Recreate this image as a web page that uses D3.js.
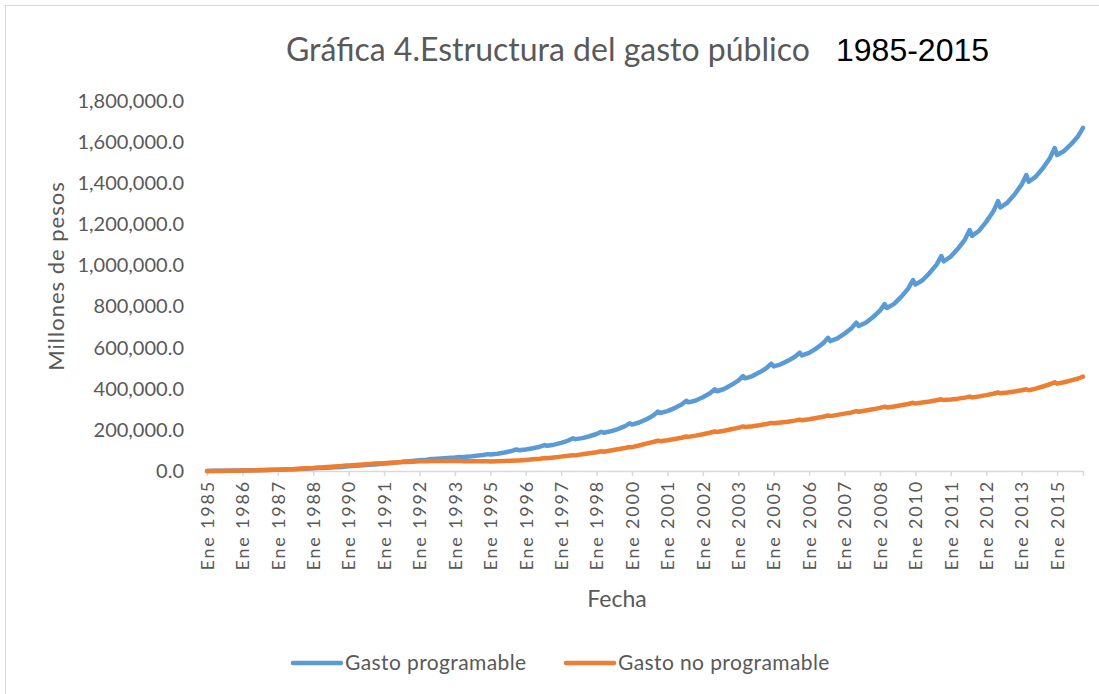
<!DOCTYPE html>
<html>
<head>
<meta charset="utf-8">
<script src="https://cdnjs.cloudflare.com/ajax/libs/d3/7.8.5/d3.min.js"></script>
<style>
  body { margin: 0; background: #fff; }
  text { font-family: Lato, "Open Sans", sans-serif; fill: #595959; }
</style>
</head>
<body>
<script>
// años 1985..2015, cinco lecturas por año (Ene, Abr, Jul, Oct, Dic)
const anios = d3.range(1985, 2016);
const meses = [0, 3, 6, 9, 11];

const gastoProgramable = [
  [500, 900, 1300, 1800, 2400],            // 1985
  [2400, 2800, 3300, 3900, 4500],
  [4600, 5500, 6500, 7800, 9000],
  [9000, 10000, 11500, 12800, 14000],
  [14500, 16000, 18000, 20000, 22000],
  [22500, 25000, 27500, 30000, 32000],     // 1990
  [33000, 36000, 39000, 42000, 45000],
  [46000, 49000, 52000, 55000, 58000],
  [58000, 60500, 63000, 65500, 68000],
  [67000, 70000, 74000, 78000, 82000],
  [80000, 84000, 90000, 97000, 105000],    // 1995
  [101000, 105000, 111000, 118000, 126000],
  [123000, 128000, 137000, 148000, 159000],
  [155000, 160000, 169000, 180000, 191000],
  [186000, 193000, 204000, 218000, 232000],
  [226000, 236000, 251000, 270000, 289000], // 2000
  [282000, 291000, 306000, 324000, 342000],
  [334000, 343000, 359000, 378000, 397000],
  [388000, 399000, 418000, 440000, 462000],
  [451000, 462000, 480000, 501000, 522000],
  [509000, 519000, 536000, 556000, 576000], // 2005
  [562000, 575000, 596000, 622000, 648000],
  [632000, 645000, 668000, 695000, 722000],
  [705000, 721000, 748000, 780000, 812000],
  [793000, 813000, 847000, 888000, 929000],
  [907000, 928000, 963000, 1004000, 1046000], // 2010
  [1020000, 1043000, 1081000, 1126000, 1172000],
  [1144000, 1169000, 1212000, 1262000, 1313000],
  [1282000, 1306000, 1345000, 1393000, 1440000],
  [1407000, 1432000, 1473000, 1522000, 1571000],
  [1537000, 1557000, 1590000, 1630000, 1669000]  // 2015
];

const gastoNoProgramable = [
  [0, 300, 600, 1000, 1500],               // 1985
  [1500, 2000, 2600, 3300, 4000],
  [4000, 5000, 6200, 7600, 9000],
  [9000, 11000, 13000, 15000, 17000],
  [17000, 19500, 22000, 24500, 27000],
  [27000, 29500, 31500, 34000, 36000],     // 1990
  [36000, 38000, 40000, 42000, 44000],
  [44000, 45500, 47000, 48000, 49000],
  [48500, 49000, 49000, 49000, 49000],
  [48000, 47500, 47000, 47000, 47500],
  [46500, 47500, 48500, 50000, 51500],     // 1995
  [51000, 54000, 57000, 60000, 63000],
  [62000, 66000, 70000, 74000, 77000],
  [76000, 81000, 86000, 91000, 96000],
  [94000, 100000, 106000, 112000, 117000],
  [116000, 124000, 133000, 141000, 148000], // 2000
  [145000, 150000, 156000, 162000, 168000],
  [166000, 172000, 179000, 186000, 192000],
  [190000, 196000, 203000, 210000, 217000],
  [214000, 218000, 223000, 229000, 234000],
  [232000, 236000, 240000, 245000, 250000], // 2005
  [247000, 252000, 258000, 264000, 270000],
  [267000, 273000, 279000, 285000, 291000],
  [288000, 294000, 300000, 307000, 313000],
  [309000, 314000, 320000, 326000, 332000],
  [328000, 333000, 338000, 344000, 349000], // 2010
  [345000, 348000, 352000, 357000, 362000],
  [358000, 363000, 369000, 376000, 382000],
  [378000, 382000, 387000, 393000, 398000],
  [393000, 401000, 411000, 422000, 432000],
  [425000, 432000, 441000, 450000, 459000]  // 2015
];

// etiquetas del eje x (una cada 15 meses)
const etiquetasX = ["Ene 1985","Ene 1986","Ene 1987","Ene 1988","Ene 1990","Ene 1991",
  "Ene 1992","Ene 1993","Ene 1995","Ene 1996","Ene 1997","Ene 1998","Ene 2000",
  "Ene 2001","Ene 2002","Ene 2003","Ene 2005","Ene 2006","Ene 2007","Ene 2008",
  "Ene 2010","Ene 2011","Ene 2012","Ene 2013","Ene 2015"];
const pasoEtiqueta = 15;
const valoresY = [0, 200000, 400000, 600000, 800000, 1000000, 1200000, 1400000, 1600000, 1800000];

const series = [
  { nombre: "Gasto programable", color: "#5b9bd5", valores: gastoProgramable },
  { nombre: "Gasto no programable", color: "#ed7d31", valores: gastoNoProgramable }
];

const w = 1099, h = 694;
const totalMeses = anios.length * 12;

const svg = d3.select('body').append('svg')
  .attr('width', w)
  .attr('height', h);

svg.append('rect')
  .attr('x', 5.5).attr('y', 5.5)
  .attr('width', w + 20).attr('height', h + 20)
  .attr('fill', 'none')
  .attr('stroke', '#d9d9d9');

const x = d3.scaleLinear().domain([0, totalMeses - 1]).range([207, 1083]);
const y = d3.scaleLinear().domain([0, 1800000]).range([471, 101]);

const toPoints = (tabla) => {
  const pts = [];
  tabla.forEach((fila, i) => fila.forEach((v, j) => pts.push({ m: i * 12 + meses[j], v: v })));
  return pts;
};

// eje x
const xAxis = d3.axisBottom(x)
  .tickValues(etiquetasX.map((d, i) => i * pasoEtiqueta))
  .tickSize(5)
  .tickFormat((d, i) => etiquetasX[i]);

const gx = svg.append('g')
  .attr('transform', 'translate(0,471)')
  .call(xAxis);
gx.select('.domain').attr('stroke', '#d9d9d9').attr('stroke-width', 1.5);
gx.selectAll('.tick line').attr('stroke', '#d9d9d9').attr('stroke-width', 1.5);
gx.selectAll('.tick text')
  .attr('transform', 'rotate(-90)')
  .attr('x', -9)
  .attr('y', 0)
  .attr('dy', '0.35em')
  .attr('text-anchor', 'end')
  .style('font-size', '18px')
  .style('letter-spacing', '1.8px')
  .style('font-family', 'Lato, sans-serif')
  .attr('fill', '#595959');

// eje y (solo etiquetas)
const yAxis = d3.axisLeft(y)
  .tickValues(valoresY)
  .tickSize(0)
  .tickFormat(d3.format(',.1f'));
const gy = svg.append('g')
  .attr('transform', 'translate(187,0)')
  .call(yAxis);
gy.select('.domain').remove();
gy.selectAll('.tick text')
  .style('font-size', '20px')
  .style('font-family', 'Lato, sans-serif')
  .attr('fill', '#595959');

// lineas
const line = d3.line().x(d => x(d.m)).y(d => y(d.v));
series.forEach(s => {
  svg.append('path')
    .datum(toPoints(s.valores))
    .attr('fill', 'none')
    .attr('stroke', s.color)
    .attr('stroke-width', 4.5)
    .attr('stroke-linejoin', 'round')
    .attr('stroke-linecap', 'round')
    .attr('d', line);
});

// titulos
svg.append('text')
  .attr('x', 286)
  .attr('y', 61)
  .style('font-size', '32px')
  .text('Gráfica 4.Estructura del gasto público');
svg.append('text')
  .attr('x', 836)
  .attr('y', 61)
  .style('font-size', '32px')
  .style('font-family', '"Liberation Sans", Arial, sans-serif')
  .style('fill', '#000')
  .text('1985-2015');

svg.append('text')
  .attr('transform', 'translate(64,276) rotate(-90)')
  .attr('text-anchor', 'middle')
  .style('font-size', '22px')
  .style('letter-spacing', '1px')
  .text('Millones de pesos');

svg.append('text')
  .attr('x', 617)
  .attr('y', 607)
  .attr('text-anchor', 'middle')
  .style('font-size', '23px')
  .text('Fecha');

// leyenda
const leyendaX = [293, 566];
series.forEach((s, i) => {
  const g = svg.append('g').attr('transform', `translate(${leyendaX[i]},663)`);
  g.append('line')
    .attr('x1', 0).attr('x2', 48)
    .attr('stroke', s.color)
    .attr('stroke-width', 4.5)
    .attr('stroke-linecap', 'round');
  g.append('text')
    .attr('x', 52)
    .attr('dy', '0.35em')
    .style('font-size', '21px')
    .style('letter-spacing', '0.4px')
    .text(s.nombre);
});
</script>
</body>
</html>
